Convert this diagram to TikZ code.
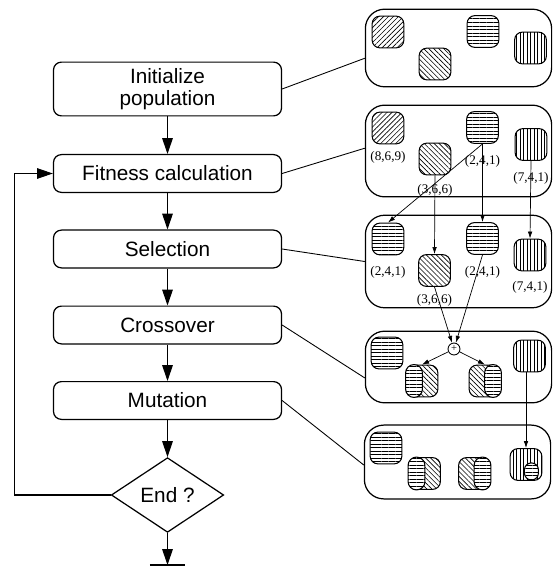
\documentclass[tikz,border=0pt]{standalone}
\usepackage{fontspec}
\setmainfont{Liberation Sans}
\newfontfamily\lblfont{Liberation Serif}
\usetikzlibrary{arrows.meta,shapes.geometric,patterns.meta,positioning,calc}
\tikzset{
  procbox/.style={draw, line width=0.7pt, rounded corners=4.5pt, minimum width=129.8pt, minimum height=21.5pt, inner sep=0pt, align=center, font=\fontsize{11.8}{12.5}\selectfont},
  decbox/.style={draw, line width=0.7pt, diamond, minimum width=64pt, minimum height=42.5pt, inner sep=0pt, font=\fontsize{11.8}{12.5}\selectfont},
  panel/.style={draw, line width=0.7pt, rounded corners=11pt, minimum width=106pt, minimum height=#1, inner sep=0pt},
  chrom/.style={draw, line width=0.6pt, rounded corners=4.5pt, minimum size=18.1pt, inner sep=0pt},
  hNE/.style={pattern={Lines[angle=45,distance=2pt,line width=0.35pt]}},
  hNW/.style={pattern={Lines[angle=-45,distance=2pt,line width=0.35pt]}},
  hH/.style={pattern={Lines[angle=0,distance=2pt,line width=0.35pt]}},
  hV/.style={pattern={Lines[angle=90,distance=2pt,line width=0.35pt]}},
  flow/.style={line width=0.6pt, -{Triangle[length=9pt,width=6pt]}},
  garrow/.style={line width=0.4pt, -{Latex[length=4pt,width=2.6pt]}},
  lbl/.style={font=\lblfont\fontsize{7.5}{8}\selectfont, inner sep=0pt},
}
% offspring: left part taken from the first parent
\def\childL(#1,#2,#3){
  \node[chrom, hNW] (#1) at (#2,#3) {};
  \draw[line width=0.6pt, rounded corners=4.8pt, preaction={fill=white}, hH] (#1.north west) rectangle ([xshift=9.6pt]#1.south west);
}
\def\childR(#1,#2,#3){
  \node[chrom, hNW] (#1) at (#2,#3) {};
  \draw[line width=0.6pt, rounded corners=4.8pt, preaction={fill=white}, hH] ([xshift=-9.6pt]#1.north east) rectangle (#1.south east);
}

\begin{document}
\begin{tikzpicture}[x=0.02cm, y=-0.02cm, line width=0.5pt]
\useasboundingbox (0,0) rectangle (553,574);

% flow chart
\node[procbox, minimum height=30.6pt] (init) at (167.5,89) {Initialize\\population};
\node[procbox] (fit) at (167.5,173.5) {Fitness calculation};
\node[procbox] (sel) at (167.5,249) {Selection};
\node[procbox] (cross) at (167.5,325) {Crossover};
\node[procbox] (mut) at (167.5,400.5) {Mutation};
\node[decbox] (endq) at (167.5,495) {End ?};
\coordinate (stop) at (167.5,565);
\draw[flow] (init) -- (fit);
\draw[flow] (fit) -- (sel);
\draw[flow] (sel) -- (cross);
\draw[flow] (cross) -- (mut);
\draw[flow] (mut) -- (endq);
\draw[flow] (endq) -- (stop);
\draw[line width=1.2pt] ([xshift=-10pt]stop) -- ([xshift=10pt]stop);
\draw[flow] (endq.west) -- ++(-96,0) |- (fit.west);

% population panels
\node[panel=44.2pt] (panel1) at (458.5,48) {};
\node[panel=52.2pt] (panel2) at (458.5,151) {};
\node[panel=52.7pt] (panel3) at (458.5,261.5) {};
\node[panel=40.8pt] (panel4) at (458.5,367) {};
\node[panel=42pt] (panel5) at (457.5,462) {};
\draw (init.east) -- ($(panel1.north west)!0.63!(panel1.south west)$);
\draw (fit.east) -- ($(panel2.north west)!0.47!(panel2.south west)$);
\draw (sel.east) -- ($(panel3.north west)!0.5!(panel3.south west)$);
\draw (cross.east) -- ($(panel4.north west)!0.65!(panel4.south west)$);
\draw (mut.east) -- ($(panel5.north west)!0.54!(panel5.south west)$);

\node[chrom, hNE] (p1a) at (388,32) {};
\node[chrom, hNW] (p1b) at (435,64) {};
\node[chrom, hH] (p1c) at (483,31.5) {};
\node[chrom, hV] (p1d) at (530.5,48) {};

\node[chrom, hNE] (p2a) at (388,128) {};
\node[chrom, hNW] (p2b) at (435,159) {};
\node[chrom, hH] (p2c) at (482.5,127.5) {};
\node[chrom, hV] (p2d) at (531,144.5) {};
\node[lbl, below=3.5pt of p2a] {(8,6,9)};
\node[lbl, below=5pt of p2b] {(3,6,6)};
\node[lbl, below=6pt of p2c] {(2,4,1)};
\node[lbl, below=6pt of p2d] {(7,4,1)};

\node[chrom, hH] (p3a) at (388,239) {};
\node[chrom, hNW] (p3b) at (434.5,270.5) {};
\node[chrom, hH] (p3c) at (482.5,238.5) {};
\node[chrom, hV] (p3d) at (530,255) {};
\node[lbl, below=6pt of p3a] {(2,4,1)};
\node[lbl, below=4pt of p3b] {(3,6,6)};
\node[lbl, below=6pt of p3c] {(2,4,1)};
\node[lbl, below=5.5pt of p3d] {(7,4,1)};
\draw[garrow] (p2c.south) -- (p3a.north);
\draw[garrow] (p2b.south) -- (p3b.north);
\draw[garrow] (p2c.south) -- (p3c.north);
\draw[garrow] (p2d.south) -- (p3d.north);

\node[chrom, hH] (p4a) at (387,353) {};
\childL(p4e,422,381)
\childR(p4f,485,381)
\node[chrom, hV] (p4d) at (529.5,356) {};
\node[draw, circle, minimum size=6.8pt, inner sep=0pt, line width=0.5pt, font=\lblfont\fontsize{6}{6}\selectfont] (xo) at (454,349) {+};
\draw[garrow] (p3b.south) -- (xo);
\draw[garrow] (p3c.south) -- (xo);
\draw[garrow] (xo) -- (p4e.north);
\draw[garrow] (xo) -- (p4f.north);

\node[chrom, hH] (p5a) at (386,448) {};
\childL(p5e,424.5,473.5)
\childR(p5f,474.5,473.5)
\node[chrom, hV] (p5d) at (526,464.5) {};
\draw[line width=0.6pt, rounded corners=3.9pt, preaction={fill=white}, hH] ($(p5d.south east)+(-18,-1)$) rectangle ($(p5d.south east)+(-4,-18)$);
\draw[garrow] (p4d.south -| p5d.north) -- (p5d.north);
\end{tikzpicture}
\end{document}
